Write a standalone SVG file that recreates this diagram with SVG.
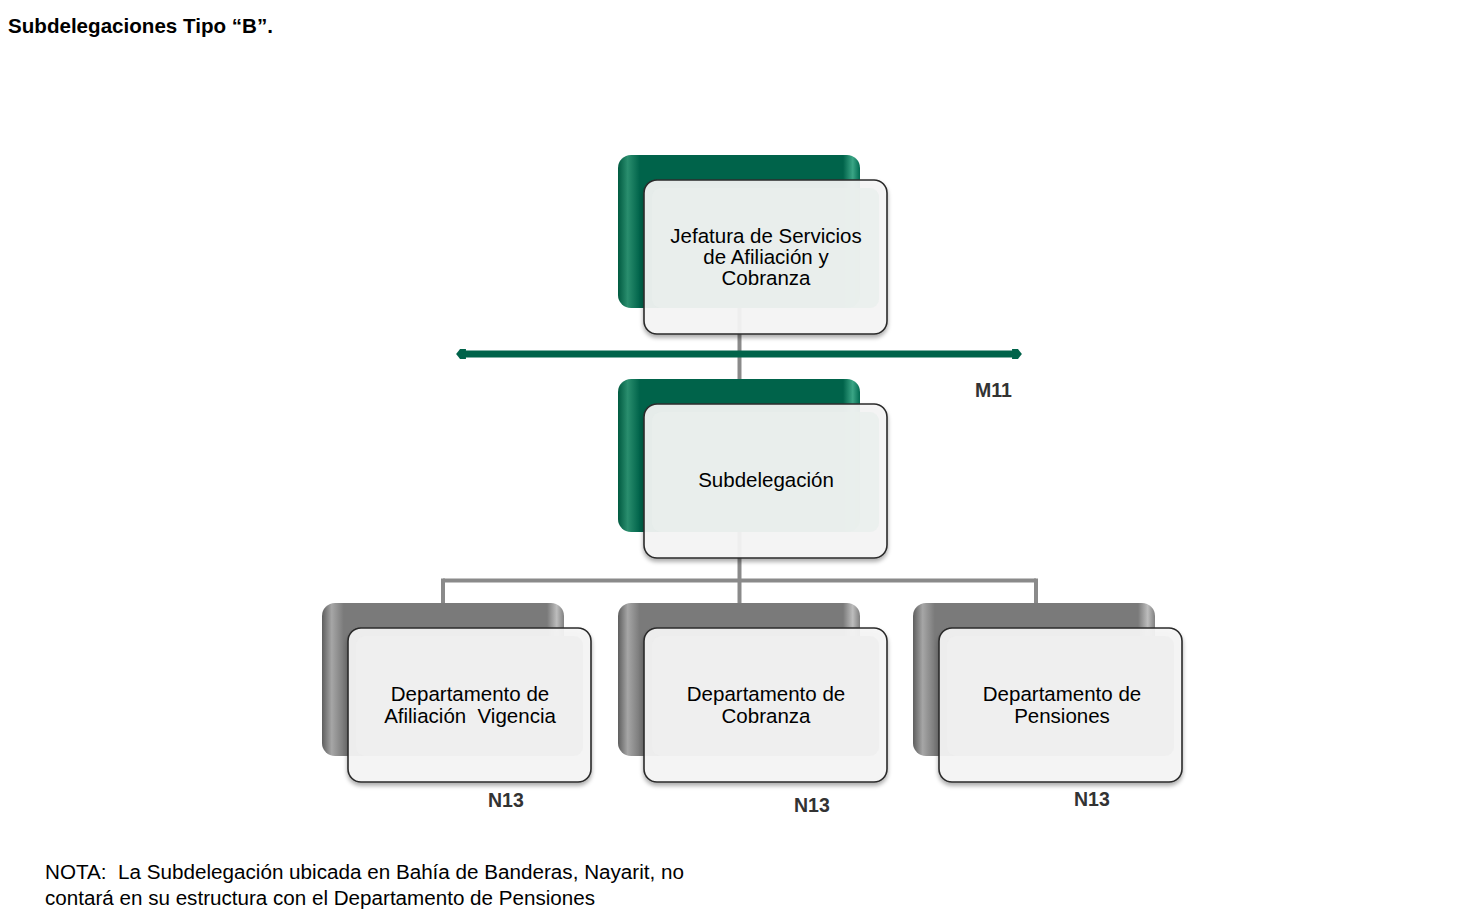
<svg xmlns="http://www.w3.org/2000/svg" width="1461" height="918" viewBox="0 0 1461 918">
<style>
.t{font-family:"Liberation Sans",Arial,sans-serif;fill:#000}
.lbl{font-size:20.5px;text-anchor:middle}
.lvl{font-size:19.5px;font-weight:bold;fill:#333}
.gback{fill:url(#gG)}
.kback{fill:url(#gK)}
.front{fill:#f6f6f6;fill-opacity:0.92;stroke:#2b2b2b;stroke-width:1.6;filter:url(#sh)}
.innerG{fill:#e9efec;fill-opacity:0.85}
.innerK{fill:#eeeeee;fill-opacity:0.9}
.conn{stroke:#8a8a8a;stroke-width:4;fill:none}
</style>
<defs>
<linearGradient id="gG" x1="0" y1="0" x2="1" y2="0">
<stop offset="0" stop-color="#005a40"/>
<stop offset="0.04" stop-color="#2a8e6e"/>
<stop offset="0.09" stop-color="#00634a"/>
<stop offset="0.93" stop-color="#00634a"/>
<stop offset="0.97" stop-color="#3aa585"/>
<stop offset="1" stop-color="#006a50"/>
</linearGradient>
<linearGradient id="gK" x1="0" y1="0" x2="1" y2="0">
<stop offset="0" stop-color="#5e5e5e"/>
<stop offset="0.04" stop-color="#a6a6a6"/>
<stop offset="0.09" stop-color="#7a7a7a"/>
<stop offset="0.93" stop-color="#7a7a7a"/>
<stop offset="0.97" stop-color="#bdbdbd"/>
<stop offset="1" stop-color="#808080"/>
</linearGradient>
<filter id="sh" x="-10%" y="-10%" width="120%" height="125%">
<feDropShadow dx="0" dy="3" stdDeviation="2" flood-color="#000" flood-opacity="0.35"/>
</filter>
<marker id="endG" viewBox="0 0 10 10" refX="4" refY="5" markerWidth="1.4" markerHeight="1.4" orient="auto-start-reverse">
<path d="M0,0 L6,0 L10,5 L6,10 L0,10 Z" fill="#00634a"/>
</marker>
</defs>

<text class="t" x="8" y="33" font-size="20.5" font-weight="bold" textLength="265" lengthAdjust="spacingAndGlyphs">Subdelegaciones Tipo “B”.</text>

<g id="connectors">
<line class="conn" x1="739.5" y1="260" x2="739.5" y2="382"/>
<line class="conn" x1="739.5" y1="500" x2="739.5" y2="606"/>
<line class="conn" x1="443" y1="580.5" x2="1036" y2="580.5"/>
<line class="conn" x1="443" y1="578.5" x2="443" y2="606"/>
<line class="conn" x1="1036" y1="578.5" x2="1036" y2="606"/>
</g>

<g id="level-line">
<line x1="462" y1="354" x2="1016" y2="354" stroke="#00634a" stroke-width="7" marker-start="url(#endG)" marker-end="url(#endG)"/>
</g>

<g id="node-jefatura">
<rect class="gback" x="618" y="155" width="242" height="153" rx="13"/>
<rect class="front" x="644" y="180" width="243" height="154" rx="13"/>
<rect class="innerG" x="652" y="188" width="227" height="120" rx="9"/>
<text class="t lbl" x="766" y="243">Jefatura de Servicios</text>
<text class="t lbl" x="766" y="264">de Afiliación y</text>
<text class="t lbl" x="766" y="285">Cobranza</text>
</g>

<text class="t lvl" x="975" y="397">M11</text>

<g id="node-subdelegacion">
<rect class="gback" x="618" y="379" width="242" height="153" rx="13"/>
<rect class="front" x="644" y="404" width="243" height="154" rx="13"/>
<rect class="innerG" x="652" y="412" width="227" height="120" rx="9"/>
<text class="t lbl" x="766" y="487">Subdelegación</text>
</g>

<g id="node-afiliacion">
<rect class="kback" x="322" y="603" width="242" height="153" rx="13"/>
<rect class="front" x="348" y="628" width="243" height="154" rx="13"/>
<rect class="innerK" x="356" y="636" width="227" height="120" rx="9"/>
<text class="t lbl" x="470" y="701">Departamento de</text>
<text class="t lbl" x="470" y="723" xml:space="preserve">Afiliación  Vigencia</text>
</g>

<g id="node-cobranza">
<rect class="kback" x="618" y="603" width="242" height="153" rx="13"/>
<rect class="front" x="644" y="628" width="243" height="154" rx="13"/>
<rect class="innerK" x="652" y="636" width="227" height="120" rx="9"/>
<text class="t lbl" x="766" y="701">Departamento de</text>
<text class="t lbl" x="766" y="723">Cobranza</text>
</g>

<g id="node-pensiones">
<rect class="kback" x="913" y="603" width="242" height="153" rx="13"/>
<rect class="front" x="939" y="628" width="243" height="154" rx="13"/>
<rect class="innerK" x="947" y="636" width="227" height="120" rx="9"/>
<text class="t lbl" x="1062" y="701">Departamento de</text>
<text class="t lbl" x="1062" y="723">Pensiones</text>
</g>

<text class="t lvl" x="488" y="807">N13</text>
<text class="t lvl" x="794" y="812">N13</text>
<text class="t lvl" x="1074" y="806">N13</text>

<text class="t" x="45" y="879" font-size="19.5" textLength="639" lengthAdjust="spacingAndGlyphs" xml:space="preserve">NOTA:  La Subdelegación ubicada en Bahía de Banderas, Nayarit, no</text>
<text class="t" x="45" y="905" font-size="19.5" textLength="550" lengthAdjust="spacingAndGlyphs">contará en su estructura con el Departamento de Pensiones</text>
</svg>
